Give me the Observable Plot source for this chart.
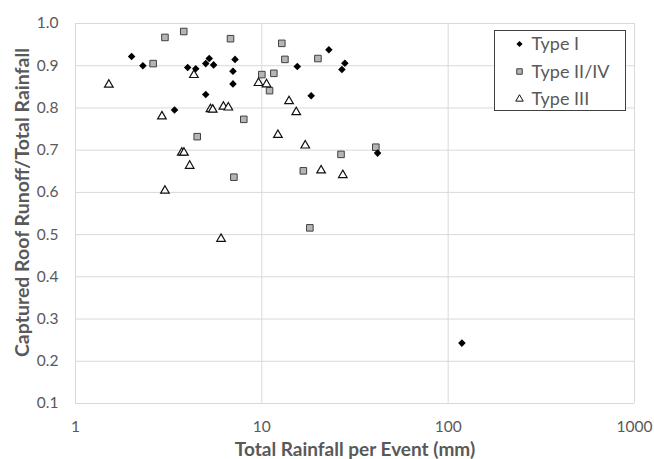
<!DOCTYPE html>
<html>
<head>
<meta charset="utf-8">
<script src="https://cdn.jsdelivr.net/npm/d3@7"></script>
<script src="https://cdn.jsdelivr.net/npm/@observablehq/plot@0.6"></script>
<style>
  body { margin: 0; background: white; }
  #wrap { position: relative; width: 654px; height: 459px; }
  #legend { position: absolute; left: 0; top: 0; pointer-events: none; }
</style>
</head>
<body>
<div id="wrap"></div>
<script>
// ---- data ----
const seriesNames = ["Type I", "Type II/IV", "Type III"];

const typeI_x = [2.0, 2.3, 4.0, 4.42, 5.0, 5.22, 5.51, 7.18, 7.0, 7.0, 5.0, 3.4, 22.9, 15.5, 27.9, 26.9, 18.4, 41.8, 118.5];
const typeI_y = [0.922, 0.900, 0.896, 0.893, 0.905, 0.917, 0.902, 0.915, 0.887, 0.857, 0.832, 0.795, 0.938, 0.898, 0.906, 0.891, 0.829, 0.693, 0.243];

const typeII_x = [3.02, 3.81, 6.79, 2.61, 10.0, 8.0, 4.5, 12.8, 13.3, 20.0, 11.6, 11.0, 40.9, 26.6, 16.7, 18.1, 7.08];
const typeII_y = [0.967, 0.981, 0.964, 0.905, 0.879, 0.773, 0.732, 0.953, 0.915, 0.917, 0.882, 0.841, 0.707, 0.690, 0.651, 0.516, 0.636];

const typeIII_x = [1.51, 4.32, 2.91, 5.3, 5.45, 6.22, 6.61, 9.6, 10.6, 14.0, 15.3, 12.2, 17.1, 20.8, 27.2, 3.72, 3.82, 4.1, 3.02, 6.04];
const typeIII_y = [0.855, 0.878, 0.780, 0.797, 0.796, 0.803, 0.801, 0.859, 0.856, 0.816, 0.790, 0.736, 0.711, 0.652, 0.641, 0.694, 0.694, 0.663, 0.604, 0.490];

const xTicks = [1, 10, 100, 1000];
const yTicks = [0.1, 0.2, 0.3, 0.4, 0.5, 0.6, 0.7, 0.8, 0.9, 1.0];
const xTitle = "Total Rainfall per Event (mm)";
const yTitle = "Captured Roof Runoff/Total Rainfall";

const toRows = (xs, ys) => xs.map((x, i) => ({x, y: ys[i]}));
const dI = toRows(typeI_x, typeI_y);
const dII = toRows(typeII_x, typeII_y);
const dIII = toRows(typeIII_x, typeIII_y);

const textColor = "#595959";
const font = "Lato, 'Open Sans', sans-serif";

const chart = Plot.plot({
  width: 654,
  height: 459,
  marginLeft: 75,
  marginRight: 20,
  marginTop: 23,
  marginBottom: 56,
  style: {fontFamily: font, fontSize: "15.5px", color: textColor, background: "white", overflow: "visible"},
  x: {type: "log", domain: [1, 1000]},
  y: {domain: [0.1, 1.0]},
  marks: [
    Plot.ruleY(yTicks, {stroke: "#d9d9d9", strokeWidth: 1}),
    Plot.ruleX(xTicks, {stroke: "#d9d9d9", strokeWidth: 1}),
    Plot.axisX({ticks: xTicks, tickSize: 0, tickPadding: 17, tickFormat: d => String(d), label: null, fill: textColor}),
    Plot.axisY({ticks: yTicks, tickSize: 0, tickPadding: 17, tickFormat: d3.format(".1f"), label: null, fill: textColor}),
    Plot.dot(dII, {x: "x", y: "y", symbol: "square", r: 3.7, fill: "#b5b5b5", stroke: "#404040", strokeWidth: 1}),
    Plot.dot(dIII, {x: "x", y: "y", symbol: "triangle", r: 3.2, fill: "white", stroke: "#111", strokeWidth: 1.2}),
    Plot.dot(dI, {x: "x", y: "y", symbol: "diamond2", r: 3.4, fill: "black", stroke: "none"}),
    Plot.text([xTitle], {frameAnchor: "bottom", textAnchor: "middle", lineAnchor: "middle", dy: 46,
      fontWeight: "bold", fontSize: 19, fill: textColor}),
    Plot.text([yTitle], {frameAnchor: "left", textAnchor: "middle", lineAnchor: "middle", dx: -53, dy: -11, rotate: -90,
      fontWeight: "bold", fontSize: 19.5, fill: textColor})
  ]
});

const wrap = document.getElementById("wrap");
wrap.appendChild(chart);

// ---- legend (overlay inside the plot area) ----
const lg = d3.select(wrap).append("svg")
  .attr("id", "legend")
  .attr("width", 654).attr("height", 459);
const box = {x: 494.5, y: 30.5, w: 131, h: 80};
lg.append("rect").attr("x", box.x).attr("y", box.y).attr("width", box.w).attr("height", box.h)
  .attr("fill", "white").attr("stroke", "#404040").attr("stroke-width", 1);
const syms = [
  {sym: d3.symbolDiamond2, size: 24, fill: "black", stroke: "none"},
  {sym: d3.symbolSquare, size: 30, fill: "#b5b5b5", stroke: "#404040"},
  {sym: d3.symbolTriangle, size: 24, fill: "white", stroke: "#111"}
];
seriesNames.forEach((name, i) => {
  const cy = 44 + i * 27.5;
  const s = syms[i];
  lg.append("path").attr("d", d3.symbol(s.sym, s.size)())
    .attr("transform", `translate(519.5,${cy})`)
    .attr("fill", s.fill).attr("stroke", s.stroke).attr("stroke-width", 1);
  lg.append("text").attr("x", 531.5).attr("y", cy).attr("dy", "0.35em")
    .attr("font-family", font).attr("font-size", 18).attr("fill", textColor)
    .text(name);
});
</script>
</body>
</html>
